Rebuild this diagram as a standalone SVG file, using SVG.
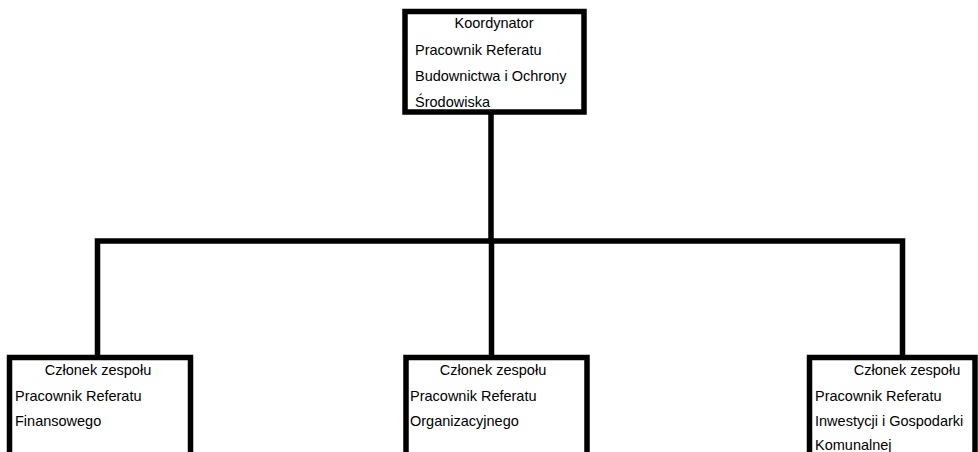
<svg xmlns="http://www.w3.org/2000/svg" width="978" height="452" viewBox="0 0 978 452">
<style>
.box{fill:#fff;stroke:#000;stroke-width:5.5}
.ln{fill:none;stroke:#000;stroke-width:5.5;stroke-linecap:square}
text{font-family:"Liberation Sans",Arial,sans-serif;font-size:14.5px;fill:#000}
.c{text-anchor:middle}
</style>
<rect width="978" height="452" fill="#fff"/>
<g id="connectors">
<path class="ln" d="M491 112V241M97.5 241H902.5M97.5 241V357.5M491.5 241V357.5M902.5 241V357.5"/>
</g>
<g id="koordynator">
<rect class="box" x="405" y="11.5" width="179" height="100.5"/>
<text class="c" x="494" y="28">Koordynator</text>
<text x="415" y="55">Pracownik Referatu</text>
<text x="415" y="81">Budownictwa i Ochrony</text>
<text x="415" y="107">Środowiska</text>
</g>
<g id="czlonek1">
<rect class="box" x="9.5" y="357.5" width="181" height="120"/>
<text class="c" x="98" y="375">Członek zespołu</text>
<text x="15" y="401">Pracownik Referatu</text>
<text x="15" y="426">Finansowego</text>
</g>
<g id="czlonek2">
<rect class="box" x="406" y="357.5" width="181" height="120"/>
<text class="c" x="493" y="375">Członek zespołu</text>
<text x="410" y="401">Pracownik Referatu</text>
<text x="410" y="426">Organizacyjnego</text>
</g>
<g id="czlonek3">
<rect class="box" x="809.5" y="357.5" width="165.5" height="120"/>
<text class="c" x="907" y="375">Członek zespołu</text>
<text x="815" y="401">Pracownik Referatu</text>
<text x="815" y="426">Inwestycji i Gospodarki</text>
<text x="815" y="450">Komunalnej</text>
</g>
</svg>
